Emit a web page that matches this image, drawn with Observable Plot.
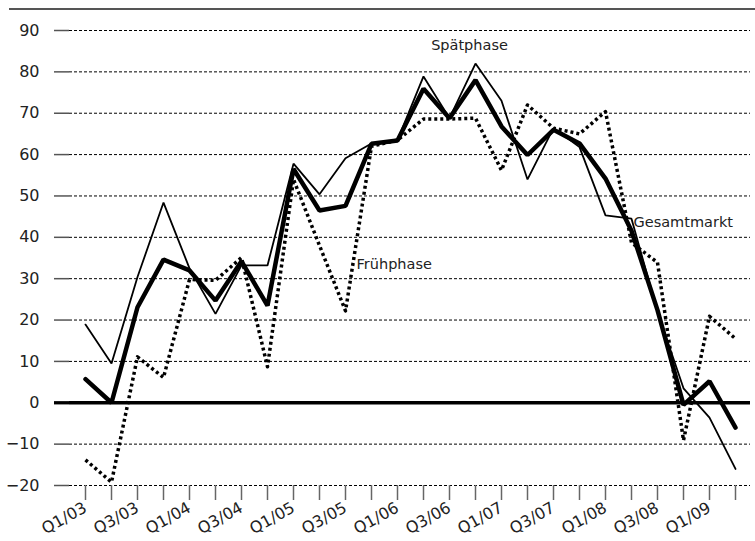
<!DOCTYPE html>
<html><head><meta charset="utf-8">
<script src="https://cdn.jsdelivr.net/npm/d3@7"></script>
<script src="https://cdn.jsdelivr.net/npm/@observablehq/plot@0.6"></script>
<style>
body{margin:0;background:#fff;}
#wrap{position:relative;width:755px;height:541px;}
#topline{position:absolute;left:9px;right:0;top:8px;height:2px;background:#555;}
</style>
</head><body><div id="wrap"><div id="topline"></div></div>
<script>
const quarters = ["Q1/03","Q2/03","Q3/03","Q4/03","Q1/04","Q2/04","Q3/04","Q4/04",
  "Q1/05","Q2/05","Q3/05","Q4/05","Q1/06","Q2/06","Q3/06","Q4/06",
  "Q1/07","Q2/07","Q3/07","Q4/07","Q1/08","Q2/08","Q3/08","Q4/08","Q1/09","Q2/09"];
const labelQuarters = quarters.filter((q, i) => i % 2 === 0);
const yTicks = [-20,-10,0,10,20,30,40,50,60,70,80,90];

const gesamtmarkt = [5.7, 0, 23.1, 34.6, 32, 24.7, 34.2, 23.5, 56.5, 46.5, 47.6, 62.6, 63.4,
  75.9, 68.8, 78, 66.8, 59.9, 66, 62.7, 54.2, 41.6, 22.4, -0.5, 5.2, -6];
const spaetphase = [18.9, 9.5, 30.4, 48.4, 32.5, 21.5, 33.2, 33.2, 57.8, 50.4, 59.1, 62.7, 63.5,
  78.9, 68.8, 82, 73, 54, 66.4, 61.8, 45.3, 44.5, 22, 3.5, -3.6, -16];
const fruehphase = [-13.8, -19.2, 11.1, 6.1, 29.8, 29.6, 35.1, 8.7, 54, 38, 22.2, 62, 63.5,
  68.6, 68.6, 68.8, 56.2, 72, 66.4, 65, 70.4, 38.7, 33.9, -9.1, 20.9, 15.5];

const xOf = (d, i) => quarters[i];

const plot = Plot.plot({
  width: 755, height: 541,
  marginLeft: 69, marginRight: 5, marginTop: 30, marginBottom: 56,
  style: {fontFamily: "DejaVu Sans", background: "white", color: "#222"},
  x: {type: "band", domain: quarters, padding: 0, label: null},
  y: {domain: [-20, 90], label: null},
  marks: [
    Plot.gridY({ticks: yTicks, stroke: "#000", strokeOpacity: 1, strokeWidth: 1, strokeDasharray: "3,2"}),
    Plot.axisY({ticks: yTicks, tickSize: 15, tickPadding: 15, fontSize: 16, stroke: "#555", strokeWidth: 1.5, label: null}),
    Plot.axisY({ticks: [0], tickSize: 15, stroke: "#000", strokeWidth: 3.3, tickFormat: () => "", label: null}),
    Plot.axisX({ticks: quarters, tickSize: 15, stroke: "#666", strokeWidth: 1.5, tickFormat: () => "", label: null}),
    Plot.axisX({ticks: labelQuarters, tickSize: 0, tickPadding: 21, tickRotate: -29, fontSize: 16, label: null}),
    Plot.ruleY([0], {stroke: "#000", strokeWidth: 3.3}),
    Plot.line(fruehphase, {x: xOf, y: d => d, stroke: "#000", strokeWidth: 3.5, strokeDasharray: "3,3", strokeLinecap: "butt"}),
    Plot.line(spaetphase, {x: xOf, y: d => d, stroke: "#000", strokeWidth: 1.8, strokeLinejoin: "miter"}),
    Plot.line(gesamtmarkt, {x: xOf, y: d => d, stroke: "#000", strokeWidth: 4.5, strokeLinejoin: "miter"}),
    Plot.text(["Spätphase"], {x: () => "Q3/06", y: () => 86.3, dx: 20, fontSize: 14.5, textAnchor: "middle", fill: "#222"}),
    Plot.text(["Gesamtmarkt"], {x: () => "Q2/08", y: () => 43.5, dx: 2, fontSize: 14.5, textAnchor: "start", fill: "#222"}),
    Plot.text(["Frühphase"], {x: () => "Q3/05", y: () => 33.4, dx: 11, fontSize: 14.5, textAnchor: "start", fill: "#222"})
  ]
});
document.getElementById("wrap").appendChild(plot);
</script>
</body></html>
